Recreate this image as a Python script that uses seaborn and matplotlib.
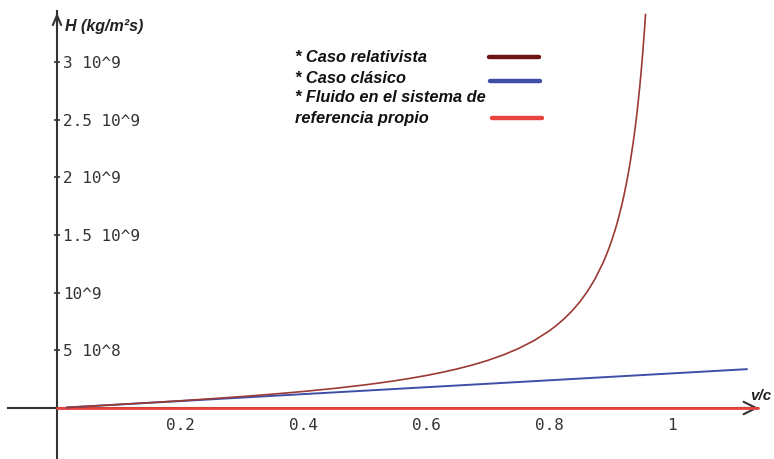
import numpy as np
import pandas as pd
import matplotlib
matplotlib.use("Agg")
import matplotlib.pyplot as plt
from matplotlib.lines import Line2D
import seaborn as sns

# ---- data (H in kg/m^2 s, v/c dimensionless) ----
beta_rel = [0.016, 0.05, 0.1, 0.15, 0.2, 0.25, 0.3, 0.35, 0.4, 0.45, 0.5,
            0.525, 0.55, 0.575, 0.6, 0.625, 0.65, 0.675, 0.7, 0.725, 0.75,
            0.775, 0.8, 0.8125, 0.825, 0.8375, 0.85, 0.8625, 0.875, 0.8875,
            0.8925, 0.8975, 0.9, 0.9025, 0.9075, 0.91, 0.9125, 0.9175, 0.92,
            0.9225, 0.9275, 0.93, 0.9325, 0.9375, 0.94, 0.9425, 0.945,
            0.9475, 0.95, 0.9525, 0.955, 0.957]
H_rel = [0.0048e9, 0.0150e9, 0.0303e9, 0.0460e9, 0.0625e9, 0.0800e9,
         0.0989e9, 0.1197e9, 0.1429e9, 0.1693e9, 0.2000e9, 0.2174e9,
         0.2366e9, 0.2577e9, 0.2813e9, 0.3077e9, 0.3377e9, 0.3720e9,
         0.4118e9, 0.4585e9, 0.5143e9, 0.5822e9, 0.6667e9, 0.7172e9,
         0.7750e9, 0.8415e9, 0.9189e9, 1.0104e9, 1.1200e9, 1.2539e9,
         1.3161e9, 1.3844e9, 1.4211e9, 1.4596e9, 1.5430e9, 1.5881e9,
         1.6359e9, 1.7400e9, 1.7969e9, 1.8575e9, 1.9911e9, 2.0651e9,
         2.1446e9, 2.3226e9, 2.4227e9, 2.5315e9, 2.6502e9, 2.7801e9,
         2.9231e9, 3.0811e9, 3.2567e9, 3.4120e9]
beta_cla = [0.016, 0.5, 1.122]
H_cla = [0.0048e9, 0.15e9, 0.3366e9]
beta_prop = [0.0, 1.14]
H_prop = [0.0, 0.0]

xtick_vals = [0.2, 0.4, 0.6, 0.8, 1.0]
xtick_labels = ["0.2", "0.4", "0.6", "0.8", "1"]
ytick_vals = [5e8, 1e9, 1.5e9, 2e9, 2.5e9, 3e9]
ytick_labels = ["5 10^8", "10^9", "1.5 10^9", "2 10^9", "2.5 10^9", "3 10^9"]
legend_rows = ["* Caso relativista", "* Caso clásico",
               "* Fluido en el sistema de", "referencia propio"]

C_REL = "#9b3a33"
C_REL_LEG = "#6e1414"
C_CLA = "#3f4fa8"
C_PROP = "#e8433c"
C_AX = "#333333"

sns.set_style("white")
plt.rcParams["font.family"] = ["DejaVu Sans"]

W, H = 774, 459
fig = plt.figure(figsize=(W / 100, H / 100), dpi=100)
ax = fig.add_axes([0, 0, 1, 1])

df_rel = pd.DataFrame({"v": beta_rel, "H": H_rel})
df_cla = pd.DataFrame({"v": beta_cla, "H": H_cla})
df_prop = pd.DataFrame({"v": beta_prop, "H": H_prop})

sns.lineplot(data=df_prop, x="v", y="H", color=C_PROP, lw=2.0, ax=ax,
             legend=False, zorder=4, sort=False)
sns.lineplot(data=df_cla, x="v", y="H", color=C_CLA, lw=1.4, ax=ax,
             legend=False, zorder=5, sort=False)
sns.lineplot(data=df_rel, x="v", y="H", color=C_REL, lw=1.2, ax=ax,
             legend=False, zorder=6, sort=False)

ax.set_xlim(-0.0927, 1.1659)
ax.set_ylim(-0.442e9, 3.536e9)
ax.set_xlabel("")
ax.set_ylabel("")

# axes through the origin
for s in ["top", "left"]:
    ax.spines[s].set_visible(False)
ax.spines["bottom"].set_position(("data", 0))
ax.spines["right"].set_position(("data", 0))
ax.spines["bottom"].set_bounds(-0.08, 1.14)
ax.spines["right"].set_bounds(-0.44e9, 3.44e9)
for s in ["bottom", "right"]:
    ax.spines[s].set_color(C_AX)
    ax.spines[s].set_linewidth(1.5)
    ax.spines[s].set_zorder(3)

ax.yaxis.tick_right()
ax.set_xticks(xtick_vals)
ax.set_xticklabels(xtick_labels)
ax.set_yticks(ytick_vals)
ax.set_yticklabels(ytick_labels)
ax.tick_params(axis="x", direction="inout", length=4.5, width=1.2,
               color=C_AX, labelcolor=C_AX, labelsize=11.5, pad=5.0)
ax.tick_params(axis="y", direction="inout", length=4, width=1.2,
               color=C_AX, labelcolor=C_AX, labelsize=11.5, pad=2.0)
for lbl in ax.get_xticklabels() + ax.get_yticklabels():
    lbl.set_family("DejaVu Sans Mono")
ax.set_facecolor("white")

# arrow heads
ax.annotate("", xy=(1.145, 0), xytext=(1.10, 0),
            arrowprops=dict(arrowstyle="->,head_length=0.9,head_width=0.45",
                            color=C_AX, lw=1.5), zorder=3)
ax.annotate("", xy=(0, 3.45e9), xytext=(0, 3.3e9),
            arrowprops=dict(arrowstyle="->,head_length=0.7,head_width=0.3",
                            color=C_AX, lw=1.5), zorder=3)

lab_font = dict(family="Liberation Sans", weight="bold", style="italic")
ax.text(0.013, 3.31e9, "H (kg/m²s)", fontsize=11.5, color="#222222",
        ha="left", va="center", **lab_font)
ax.text(1.127, 0.1e9, "v/c", fontsize=11, color="#222222",
        ha="left", va="center", **lab_font)

# legend drawn as text rows with sample lines (figure pixel layout)
row_y = [58, 78, 98, 118]
for txt, yy in zip(legend_rows, row_y):
    fig.text(295 / W, 1 - yy / H, txt, ha="left", va="center",
             fontsize=11.8, color="#111111", **lab_font)
for col, yy, x0 in [(C_REL_LEG, 57, 489), (C_CLA, 81, 490), (C_PROP, 118, 492)]:
    fig.add_artist(Line2D([x0 / W, (x0 + 50) / W], [1 - yy / H, 1 - yy / H],
                          color=col, lw=3.2, solid_capstyle="round",
                          transform=fig.transFigure))

fig.savefig("out.png", dpi=100, facecolor="white")
